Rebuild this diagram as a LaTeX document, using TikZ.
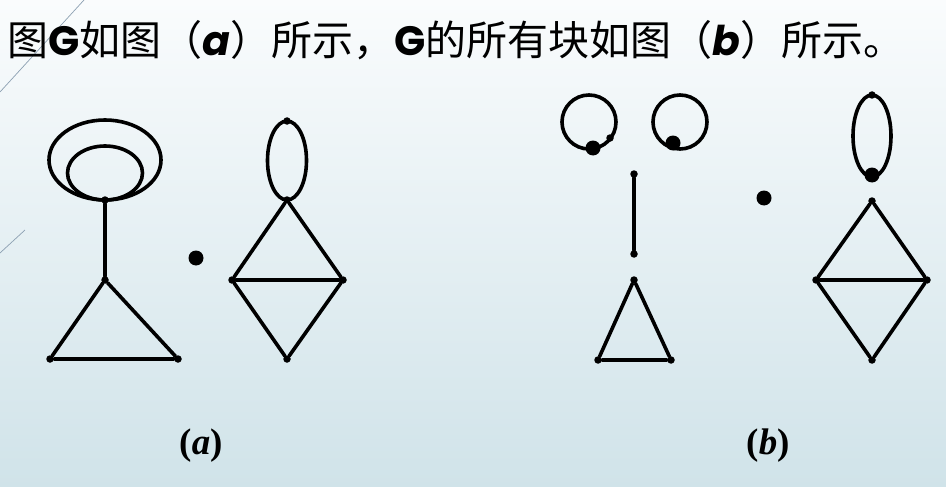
\documentclass[tikz,border=0pt]{standalone}
\usepackage{fontspec}
\setmainfont{Liberation Serif}
\newfontfamily\cjkfont{Noto Sans CJK SC}
\newfontfamily\latinfont{Poppins}
\newcommand{\lat}[1]{{\latinfont\bfseries\itshape #1}}
\newcommand{\latG}{{\latinfont\bfseries G}}
\definecolor{bgtop}{RGB}{250,252,253}
\definecolor{bgbot}{RGB}{208,227,233}
\definecolor{decoc}{RGB}{140,160,178}
\begin{document}
\begin{tikzpicture}[x=1pt,y=-1pt,
  vtx/.style={circle,fill=black,inner sep=0pt,minimum size=7.5pt},
  bigvtx/.style={circle,fill=black,inner sep=0pt,minimum size=15pt},
  edge/.style={line width=3.6pt,line cap=round,line join=round},
  deco/.style={line width=0.7pt,color=decoc}]
\useasboundingbox (0,0) rectangle (946,487);
\shade[top color=bgtop, bottom color=bgbot] (0,0) rectangle (946,487);
% decorative thin lines
\coordinate (d1) at (0,92);
\coordinate (d2) at (84,0);
\coordinate (d3) at (0,253);
\coordinate (d4) at (25,230);
\draw[deco] (d1) -- (d2);
\draw[deco] (d3) -- (d4);
% title
\node[anchor=west,inner sep=0pt] (title) at (7,40) {\fontsize{41}{43}\selectfont\cjkfont 图\latG 如图（\lat{a}）所示，\latG 的所有块如图（\lat{b}）所示。};
% ---------- graph (a) ----------
\node[vtx] (a1) at (105,200) {};
\node[vtx] (a2) at (105,280) {};
\node[vtx] (a3) at (50,359) {};
\node[vtx] (a4) at (178,359) {};
\coordinate (e1) at (105,160);
\coordinate (e2) at (105,173);
\draw[edge] (e1) ellipse [x radius=56pt, y radius=40pt];
\draw[edge] (e2) ellipse [x radius=37.5pt, y radius=27pt];
\draw[edge] (a1) -- (a2);
\draw[edge] (a2) -- (a3) -- (a4) -- (a2);
\node[bigvtx] (a5) at (196,258) {};
\node[vtx] (a6) at (287,121) {};
\node[vtx] (a7) at (287,200) {};
\node[vtx] (a8) at (232,280) {};
\node[vtx] (a9) at (343,280) {};
\node[vtx] (a10) at (287,359) {};
\coordinate (e3) at (287,160.5);
\draw[edge] (e3) ellipse [x radius=19.5pt, y radius=39.5pt];
\draw[edge] (a7) -- (a8) -- (a10) -- (a9) -- (a7);
\draw[edge] (a8) -- (a9);
% ---------- graph (b) ----------
\coordinate (c1) at (589,122);
\coordinate (c2) at (680,122);
\draw[edge] (c1) circle [radius=27pt];
\node[bigvtx] (b1) at (593,148) {};
\node[vtx] (b2) at (610,138) {};
\draw[edge] (c2) circle [radius=27pt];
\node[bigvtx] (b3) at (673,143) {};
\node[vtx] (b4) at (634,174) {};
\node[vtx] (b5) at (634,254) {};
\draw[edge] (b4) -- (b5);
\node[vtx] (b6) at (634,280) {};
\node[vtx] (b7) at (598,360) {};
\node[vtx] (b8) at (671,360) {};
\draw[edge] (b6) -- (b7) -- (b8) -- (b6);
\node[bigvtx] (b9) at (764,198) {};
\node[vtx] (b10) at (872,95) {};
\node[bigvtx] (b11) at (872,175) {};
\coordinate (e4) at (872,136);
\draw[edge] (e4) ellipse [x radius=19pt, y radius=41pt];
\node[vtx] (b12) at (872,201) {};
\node[vtx] (b13) at (816,280) {};
\node[vtx] (b14) at (927,280) {};
\node[vtx] (b15) at (872,360) {};
\draw[edge] (b12) -- (b13) -- (b15) -- (b14) -- (b12);
\draw[edge] (b13) -- (b14);
% labels
\node[font=\fontsize{37}{39}\selectfont\bfseries] (la) at (201,446) {(\textit{a})};
\node[font=\fontsize{37}{39}\selectfont\bfseries] (lb) at (768,446) {(\textit{b})};
\end{tikzpicture}
\end{document}
